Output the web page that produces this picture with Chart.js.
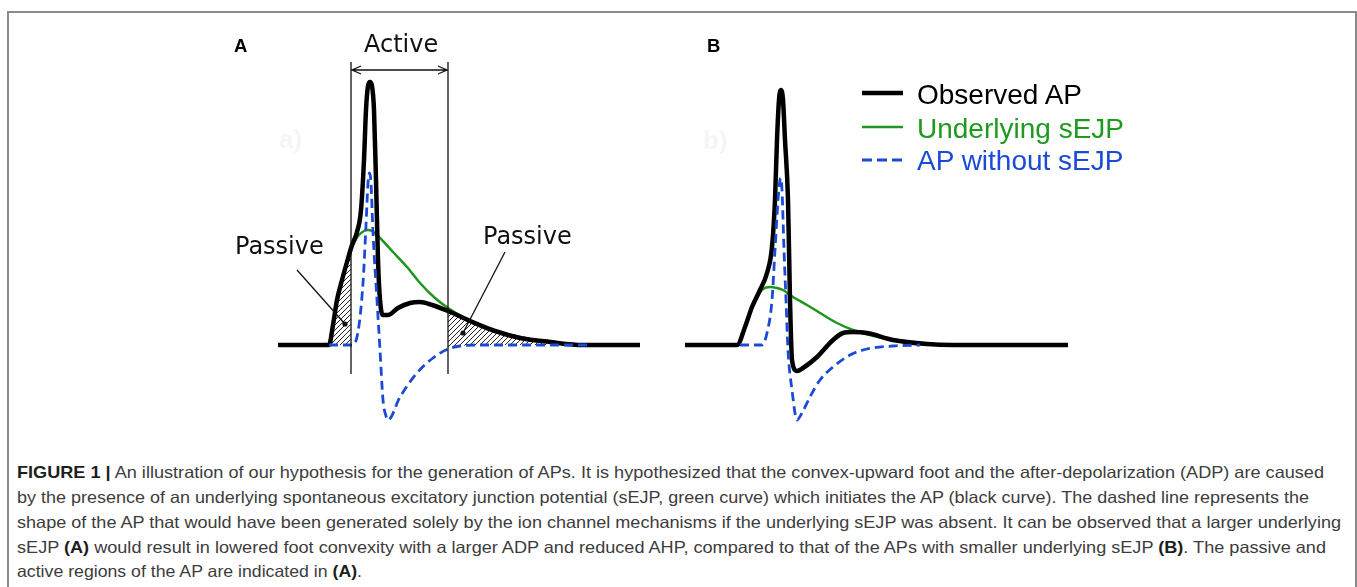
<!DOCTYPE html>
<html>
<head>
<meta charset="utf-8">
<script src="https://cdn.jsdelivr.net/npm/chart.js@4.4.1/dist/chart.umd.min.js"></script>
<style>
  html, body { margin: 0; padding: 0; background: #fff; }
  body { width: 1357px; height: 587px; position: relative; overflow: hidden; }
  .frame { position: absolute; left: 7px; top: 11px; width: 1346px; height: 640px;
           border: 2px solid #8a8a8a; border-bottom: none; }
  .t { position: absolute; white-space: nowrap; line-height: 1; }
  .panel { font: bold 18.5px "Liberation Sans", Arial, sans-serif; color: #000; }
  .note { font: 24px "DejaVu Sans", sans-serif; color: #111; }
  .ghost { font: bold 26px "Liberation Sans", Arial, sans-serif; color: #f5f5f5; }
  .leg { font: 28px "Liberation Sans", Arial, sans-serif; }
  .cap { font: 16.5px "Liberation Sans", Arial, sans-serif; color: #3c3c3c; transform-origin: 0 0; }
  .cap b { color: #1e1e1e; }
  canvas { position: absolute; }
  svg { position: absolute; left: 0; top: 0; }
</style>
</head>
<body>
<div class="frame"></div>

<canvas id="chartA" width="440" height="420" style="left:220px;top:20px;width:440px;height:420px"></canvas>
<canvas id="chartB" width="420" height="420" style="left:670px;top:20px;width:420px;height:420px"></canvas>

<div class="t panel" style="left:234px;top:35px">A</div>
<div class="t panel" style="left:707px;top:35px">B</div>
<div class="t ghost" style="left:279px;top:124px">a)</div>
<div class="t ghost" style="left:703px;top:125px">b)</div>
<div class="t note" style="left:364px;top:30px">Active</div>
<div class="t note" style="left:235px;top:232px">Passive</div>
<div class="t note" style="left:483px;top:222px">Passive</div>

<svg width="1357" height="200">
  <line x1="862" y1="93" x2="903" y2="93" stroke="#000" stroke-width="4.5"/>
  <line x1="862" y1="127" x2="903" y2="127" stroke="#1e961e" stroke-width="2.5"/>
  <line x1="862" y1="160" x2="903" y2="160" stroke="#1a4ad6" stroke-width="2.8" stroke-dasharray="10 5"/>
</svg>
<div class="t leg" style="left:917px;top:79px;color:#000">Observed AP</div>
<div class="t leg" style="left:917px;top:113px;color:#1e9a1e">Underlying sEJP</div>
<div class="t leg" style="left:917px;top:145px;color:#1a4ad6">AP without sEJP</div>

<div class="t cap" data-w="1307" style="left:17px;top:463px"><b>FIGURE 1 |</b> An illustration of our hypothesis for the generation of APs. It is hypothesized that the convex-upward foot and the after-depolarization (ADP) are caused</div>
<div class="t cap" data-w="1292" style="left:17px;top:488px">by the presence of an underlying spontaneous excitatory junction potential (sEJP, green curve) which initiates the AP (black curve). The dashed line represents the</div>
<div class="t cap" data-w="1324" style="left:17px;top:513px">shape of the AP that would have been generated solely by the ion channel mechanisms if the underlying sEJP was absent. It can be observed that a larger underlying</div>
<div class="t cap" data-w="1309" style="left:17px;top:538px">sEJP <b>(A)</b> would result in lowered foot convexity with a larger ADP and reduced AHP, compared to that of the APs with smaller underlying sEJP <b>(B)</b>. The passive and</div>
<div class="t cap" data-w="345" style="left:17px;top:562px">active regions of the AP are indicated in <b>(A)</b>.</div>

<script>
// time in ms, membrane potential in mV (illustrative traces)

// panel A: large underlying sEJP
const observedA = [
  [0, -70], [4.8, -70], [5.1, -70], [5.5, -62], [5.9, -52], [6.4, -44], [6.9, -36.8],
  [7.4, -30], [7.9, -24.8], [8.3, -16], [8.6, 4], [8.8, 24], [9.0, 33.6], [9.2, 35.2],
  [9.4, 33.6], [9.6, 24], [9.8, -4], [10.0, -36], [10.2, -52], [10.5, -58], [11.0, -58],
  [12.0, -55.2], [13.2, -53.2], [14.2, -52.8], [15.4, -54], [17.0, -56.4], [19.2, -60.4],
  [21.7, -64.4], [24.2, -67.2], [27.2, -68.8], [30.5, -70], [36.2, -70]
];
const sejpA = [
  [5.1, -70], [5.5, -62.4], [5.9, -52.4], [6.4, -44.4], [6.9, -37.2], [7.4, -31.2],
  [8.0, -26.4], [8.6, -24.4], [9.0, -24], [9.4, -24.4], [10.2, -27.2], [11.5, -32.8],
  [12.9, -38.8], [14.2, -45.2], [15.7, -51.2], [17.0, -55.2], [18.7, -59.2], [21.2, -63.6],
  [24.2, -66.8], [27.2, -68.8], [30.5, -70]
];
const noSejpA = [
  [5.1, -70], [7.4, -70], [8.0, -64.8], [8.5, -45.2], [8.8, -22], [9.0, -5.2], [9.15, -1.2],
  [9.3, -5.2], [9.5, -25.2], [9.9, -52], [10.2, -72], [10.5, -92], [10.8, -98.4], [11.0, -100],
  [12.2, -90.8], [13.9, -81.2], [15.5, -75.2], [17.0, -71.6], [18.2, -70.4], [19.7, -70],
  [31.2, -70]
];

// panel B: small underlying sEJP
const observedB = [
  [0, -70], [5.2, -70], [6.0, -62.8], [6.7, -54.8], [7.5, -48], [8.2, -41.2], [8.7, -30.8],
  [9.0, -12], [9.2, 12], [9.4, 28], [9.6, 32], [9.8, 28], [10.0, 12], [10.3, -12],
  [10.5, -52], [10.7, -76], [11.2, -80.4], [11.8, -79.2], [13.2, -74.8], [14.8, -68],
  [15.8, -65.2], [16.8, -64.8], [18.2, -65.2], [20.8, -68], [24.2, -69.6], [26.8, -70],
  [38.3, -70]
];
const sejpB = [
  [5.4, -70], [6.0, -63.2], [6.7, -55.2], [7.2, -50.4], [7.8, -47.6], [8.5, -46.8],
  [9.2, -47.2], [9.8, -48], [10.8, -50.8], [12.2, -54], [13.5, -57.2], [15.2, -61.2],
  [16.8, -64], [18.5, -66], [20.8, -68], [24.2, -69.6], [26.8, -70]
];
const noSejpB = [
  [5.5, -70], [7.7, -70], [8.2, -65.2], [8.7, -52], [9.0, -32], [9.3, -12], [9.5, -4],
  [9.6, -3.2], [9.7, -8], [9.9, -32], [10.1, -52], [10.3, -72], [10.7, -88], [11.2, -100],
  [11.7, -97.2], [12.5, -90.8], [13.5, -84], [14.8, -78.8], [16.5, -74], [18.2, -71.6],
  [20.8, -70.4], [23.5, -70]
];

// annotations of panel A
const activeBounds = [7.3, 17.0];
const activeSpan = [43.2, -81.6];   // top and bottom of the boundary lines (mV)
const activeArrowAt = 40;
const passiveRanges = [[5.1, 7.3], [17.0, 30.5]];
const passivePointers = [
  { from: [1.9, -40], to: [6.7, -61.6] },
  { from: [22.7, -32.8], to: [18.5, -65.2] }
];

const yRange = [-108, 60];
const xRangeA = [-5.8, 38.2];
const xRangeB = [-1.5, 40.5];

const BLACK = '#000000';
const GREEN = '#1e961e';
const BLUE = '#1a4ad6';

const toXY = pts => pts.map(([x, y]) => ({ x, y }));

function traces(observed, sejp, noSejp) {
  return [
    { label: 'Observed AP', data: toXY(observed), borderColor: BLACK, borderWidth: 4.5, order: 1 },
    { label: 'Underlying sEJP', data: toXY(sejp), borderColor: GREEN, borderWidth: 2.5, order: 2 },
    { label: 'AP without sEJP', data: toXY(noSejp), borderColor: BLUE, borderWidth: 2.8,
      borderDash: [9, 5], order: 0 }
  ];
}

function makeHatch(ctx) {
  const c = document.createElement('canvas');
  c.width = c.height = 5;
  const g = c.getContext('2d');
  g.strokeStyle = '#222';
  g.lineWidth = 1;
  g.beginPath();
  g.moveTo(0, 5); g.lineTo(5, 0);
  g.moveTo(-1, 1); g.lineTo(1, -1);
  g.moveTo(4, 6); g.lineTo(6, 4);
  g.stroke();
  return ctx.createPattern(c, 'repeat');
}

const annotateA = {
  id: 'annotateA',
  afterDatasetsDraw(chart) {
    const { ctx, chartArea: area, scales: { x, y } } = chart;
    const black = chart.getDatasetMeta(0).dataset;
    const blue = chart.getDatasetMeta(2).dataset;

    // hatched passive regions, slid under the traces
    ctx.save();
    ctx.globalCompositeOperation = 'destination-over';
    const hatch = makeHatch(ctx);
    for (const [t0, t1] of passiveRanges) {
      const x0 = x.getPixelForValue(t0), x1 = x.getPixelForValue(t1);
      ctx.save();
      ctx.beginPath();
      ctx.rect(x0, area.top, x1 - x0, area.bottom - area.top);
      ctx.clip();
      ctx.beginPath();
      black.path(ctx);
      ctx.lineTo(area.right, area.bottom);
      ctx.lineTo(area.left, area.bottom);
      ctx.closePath();
      ctx.clip();
      ctx.beginPath();
      blue.path(ctx);
      ctx.lineTo(area.right, area.top);
      ctx.lineTo(area.left, area.top);
      ctx.closePath();
      ctx.fillStyle = hatch;
      ctx.fill();
      ctx.restore();
    }
    ctx.restore();

    ctx.save();
    ctx.strokeStyle = '#111';
    ctx.fillStyle = '#111';
    ctx.lineWidth = 1.3;
    // active window boundaries
    const top = y.getPixelForValue(activeSpan[0]);
    const bottom = y.getPixelForValue(activeSpan[1]);
    const xl = x.getPixelForValue(activeBounds[0]);
    const xr = x.getPixelForValue(activeBounds[1]);
    ctx.beginPath();
    for (const px of [xl, xr]) {
      ctx.moveTo(px, top);
      ctx.lineTo(px, bottom);
    }
    const ay = y.getPixelForValue(activeArrowAt);
    ctx.moveTo(xl, ay); ctx.lineTo(xr, ay);
    ctx.moveTo(xl + 10, ay - 4); ctx.lineTo(xl + 1, ay); ctx.lineTo(xl + 10, ay + 4);
    ctx.moveTo(xr - 10, ay - 4); ctx.lineTo(xr - 1, ay); ctx.lineTo(xr - 10, ay + 4);
    ctx.stroke();

    // pointers to passive regions
    for (const p of passivePointers) {
      const fx = x.getPixelForValue(p.from[0]), fy = y.getPixelForValue(p.from[1]);
      const tx = x.getPixelForValue(p.to[0]), ty = y.getPixelForValue(p.to[1]);
      ctx.beginPath();
      ctx.moveTo(fx, fy);
      ctx.lineTo(tx, ty);
      ctx.stroke();
      ctx.beginPath();
      ctx.arc(tx, ty, 2.6, 0, Math.PI * 2);
      ctx.fill();
    }
    ctx.restore();
  }
};

function makeChart(id, datasets, xRange, plugins) {
  return new Chart(document.getElementById(id), {
    type: 'line',
    data: { datasets },
    options: {
      responsive: false,
      animation: false,
      devicePixelRatio: 1,
      layout: { padding: 0 },
      elements: {
        point: { radius: 0, hoverRadius: 0 },
        line: { cubicInterpolationMode: 'monotone', borderCapStyle: 'butt', borderJoinStyle: 'round', fill: false }
      },
      scales: {
        x: { type: 'linear', min: xRange[0], max: xRange[1], display: false },
        y: { type: 'linear', min: yRange[0], max: yRange[1], display: false }
      },
      plugins: { legend: { display: false }, tooltip: { enabled: false } },
      events: []
    },
    plugins
  });
}

makeChart('chartA', traces(observedA, sejpA, noSejpA), xRangeA, [annotateA]);
makeChart('chartB', traces(observedB, sejpB, noSejpB), xRangeB, []);

// squeeze each caption line to the width it has in the figure
document.querySelectorAll('.cap').forEach(el => {
  const s = Number(el.dataset.w) / el.getBoundingClientRect().width;
  el.style.transform = 'scaleX(' + s + ')';
});
</script>
</body>
</html>
